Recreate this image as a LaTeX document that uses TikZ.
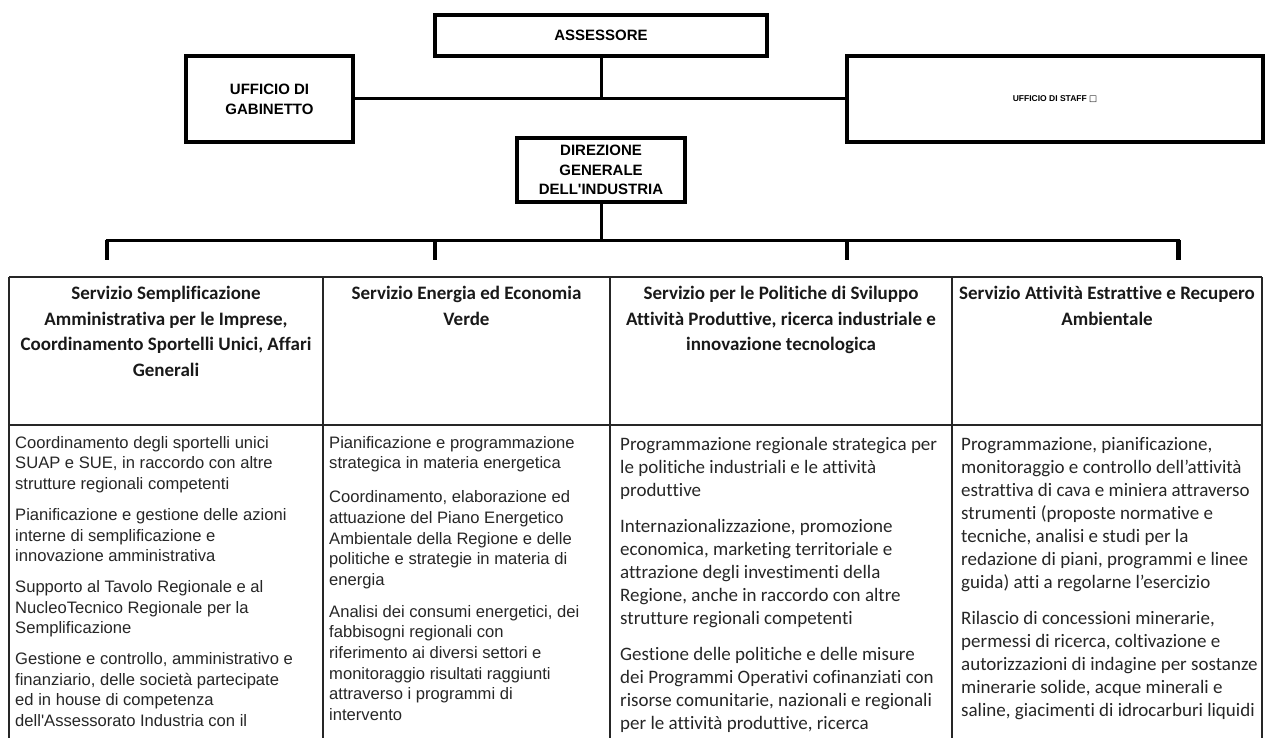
\documentclass[tikz,border=0pt]{standalone}
\usepackage{fontspec}
\setmainfont{Liberation Sans}
\newfontfamily\calibri[Ligatures=CommonOff]{Carlito}
\newfontfamily\symfont{DejaVu Sans}
\usetikzlibrary{positioning}
\tikzset{
  box/.style={draw, line width=3.5pt, align=center, inner sep=0pt,
              font=\bfseries\fontsize{15}{20}\selectfont},
  ln/.style={line width=3pt},
  tck/.style={line width=3.5pt},
  grd/.style={line width=1.4pt, draw=black!85},
  head/.style={anchor=north, align=center, inner sep=0pt, text=black!90,
               font=\calibri\bfseries\fontsize{19}{25.6}\selectfont},
  txta/.style={anchor=north west, align=left, inner sep=0pt, text=black!85,
               font=\fontsize{16.6}{20.7}\selectfont},
  txtc/.style={anchor=north west, align=left, inner sep=0pt, text=black!85,
               font=\calibri\fontsize{19}{23}\selectfont}
}

\begin{document}
\begin{tikzpicture}[x=1pt, y=-1pt]
\useasboundingbox (0,0) rectangle (1266,738);
% vertici
\node[box, minimum width=332pt, minimum height=41pt] (ass) at (601,35.5) {ASSESSORE};
\node[box, minimum width=167pt, minimum height=86pt] (gab) at (269.5,99) {UFFICIO DI\\GABINETTO};
\node[box, minimum width=416pt, minimum height=86pt, font=\bfseries\fontsize{8.5}{10}\selectfont]
  (stf) at (1055,99) {UFFICIO DI STAFF {\symfont\mdseries\fontsize{8.5}{10}\selectfont □}};
\node[box, minimum width=168pt, minimum height=64pt, font=\bfseries\fontsize{15}{19.5}\selectfont]
  (dir) at (601,170) {DIREZIONE\\GENERALE\\DELL\textquotesingle INDUSTRIA};
\coordinate (j1) at (601,99);
\draw[ln] (gab.east) -- (stf.west);
\draw[ln] (ass.south) -- (j1);
% bus dei servizi
\coordinate (b0) at (107,240); \coordinate (b1) at (435,240);
\coordinate (b2) at (847,240); \coordinate (b3) at (1178,240);
\coordinate (bd) at (601,240);
\draw[ln] (dir.south) -- (bd);
\draw[ln] ([xshift=-1.5pt]b0) -- ([xshift=1.5pt]b3);
\draw[tck] (b0) -- ++(0,20); \draw[tck] (b1) -- ++(0,20);
\draw[tck] (b2) -- ++(0,20); \draw[line width=5pt] (b3) -- ++(0,20);
% tabella
\draw[grd] (9,277) -- (1262,277);
\draw[grd] (9,425) -- (1262,425);
\foreach \cx in {9,323,610,952,1262}
  \draw[grd] (\cx,277) -- (\cx,738);
\node[head] (h1) at (166,286) {Servizio Semplificazione\\Amministrativa per le Imprese,\\Coordinamento Sportelli Unici, Affari\\Generali};
\node[head] (h2) at (466.5,286) {Servizio Energia ed Economia\\Verde};
\node[head] (h3) at (781,286) {Servizio per le Politiche di Sviluppo\\Attività Produttive, ricerca industriale e\\innovazione tecnologica};
\node[head] (h4) at (1107,286) {Servizio Attività Estrattive e Recupero\\Ambientale};
\node[txta] (c1) at (15,436) {Coordinamento degli sportelli unici\\SUAP e SUE, in raccordo con altre\\strutture regionali competenti\\[10pt]
  Pianificazione e gestione delle azioni\\interne di semplificazione e\\innovazione amministrativa\\[10pt]
  Supporto al Tavolo Regionale e al\\NucleoTecnico Regionale per la\\Semplificazione\\[10pt]
  Gestione e controllo, amministrativo e\\finanziario, delle società partecipate\\ed in house di competenza\\dell\textquotesingle Assessorato Industria con il};
\node[txta] (c2) at (329,436) {Pianificazione e programmazione\\strategica in materia energetica\\[13pt]
  Coordinamento, elaborazione ed\\attuazione del Piano Energetico\\Ambientale della Regione e delle\\politiche e strategie in materia di\\energia\\[11pt]
  Analisi dei consumi energetici, dei\\fabbisogni regionali con\\riferimento ai diversi settori e\\monitoraggio risultati raggiunti\\attraverso i programmi di\\intervento};
\node[txtc] (c3) at (620,437) {Programmazione regionale strategica per\\le politiche industriali e le attività\\produttive\\[13pt]
  Internazionalizzazione, promozione\\economica, marketing territoriale e\\attrazione degli investimenti della\\Regione, anche in raccordo con altre\\strutture regionali competenti\\[13pt]
  Gestione delle politiche e delle misure\\dei Programmi Operativi cofinanziati con\\risorse comunitarie, nazionali e regionali\\per le attività produttive, ricerca};
\node[txtc] (c4) at (961,437) {Programmazione, pianificazione,\\monitoraggio e controllo dell’attività\\estrattiva di cava e miniera attraverso\\strumenti (proposte normative e\\tecniche, analisi e studi per la\\redazione di piani, programmi e linee\\guida) atti a regolarne l’esercizio\\[13pt]
  Rilascio di concessioni minerarie,\\permessi di ricerca, coltivazione e\\autorizzazioni di indagine per sostanze\\minerarie solide, acque minerali e\\saline, giacimenti di idrocarburi liquidi};
\end{tikzpicture}
\end{document}
